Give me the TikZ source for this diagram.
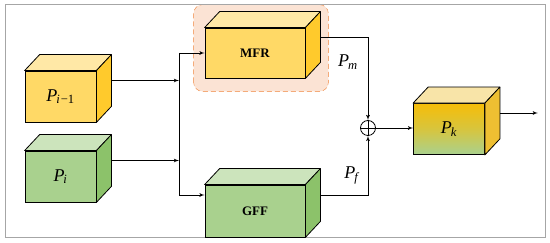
\documentclass[tikz,border=0pt]{standalone}
\usepackage{fontspec}
\setmainfont{Liberation Serif}
\usetikzlibrary{arrows, positioning, backgrounds}

\definecolor{yfront}{HTML}{FFD966}
\definecolor{ytop}{HTML}{FFE8A6}
\definecolor{yside}{HTML}{FFCA2C}
\definecolor{gfront}{HTML}{A9D18E}
\definecolor{gtop}{HTML}{CCE4BC}
\definecolor{gside}{HTML}{8CC26A}
\definecolor{kfront}{HTML}{F6BD08}
\definecolor{ktop}{HTML}{F8E4A8}
\definecolor{kside}{HTML}{EEBF32}
\definecolor{hlfill}{HTML}{FBE3D4}
\definecolor{hlorange}{HTML}{F0843C}

\newcommand{\lbl}[2]{\textit{#1}\textsubscript{\kern-1pt#2}}

\begin{document}
\begin{tikzpicture}[
    x=1pt, y=1pt,
    line width=0.8pt,
    cube/.style={rectangle, draw, inner sep=0pt, minimum width=71pt, minimum height=51pt, font=\fontsize{18}{20}\selectfont},
    wide/.style={cube, minimum width=100pt, minimum height=50pt, font=\fontsize{13}{15}\selectfont\bfseries},
    sym/.style={font=\fontsize{18}{20}\selectfont},
    line/.style={draw, -latex'},
    hilite/.style={draw=hlorange, fill=hlfill, dash pattern=on 5pt off 3pt, rounded corners=9pt}
]

\useasboundingbox (0,0) rectangle (550,243);
\draw[gray!70, line width=0.7pt] (5,6) rectangle (545,239);

\node [cube, fill=yfront] (pprev) at (60.5,146.5) {\lbl{P}{\textit{i}\kern1pt−1}};
\node [cube, fill=gfront, below of=pprev, node distance=80pt] (pcur) {\lbl{P}{\textit{i}}};
\node [wide, fill=yfront] (mfr) at (255,190) {MFR};
\node [wide, fill=gfront, minimum height=52pt] (gff) at (255,32) {GFF};
\node [cube, top color=kfront, bottom color=gfront, middle color=kfront!60!gfront] (pk) at (449,114) {\lbl{P}{\textit{k}}};

% dashed frame round the MFR block
\begin{scope}[on background layer]
\draw[hilite] ([shift={(-11,-13)}]mfr.south west) rectangle ([shift={(23,23)}]mfr.north east);
\end{scope}

% top and side faces
\foreach \n/\tc/\sc in {pprev/ytop/yside, pcur/gtop/gside, mfr/ytop/yside, gff/gtop/gside, pk/ktop/kside} {
    \filldraw[fill=\tc, line join=round] (\n.north west) -- ++(15,16) -- ([shift={(15,16)}]\n.north east) -- (\n.north east) -- cycle;
    \filldraw[fill=\sc, line join=round] (\n.north east) -- ++(15,16) -- ([shift={(15,16)}]\n.south east) -- (\n.south east) -- cycle;
    \coordinate (\n-o) at ([shift={(15,16)}]\n.east);
}

\node [circle, draw, minimum size=15pt, inner sep=0pt] (sum) at (368,115) {};
\draw (sum.north) -- (sum.south) (sum.west) -- (sum.east);

\coordinate (jtop) at (179,190);
\coordinate (jbot) at (179,48);
\coordinate (end) at ([xshift=38pt]pk-o);

\path [line] (pprev-o) -- (pprev-o -| jtop);
\path [line] (pcur-o) -- (pcur-o -| jtop);
\draw (jtop) -- (jbot);
\path [line] (jtop) -- (mfr.west);
\path [line] (jbot) -- (jbot -| gff.west);
\path [line] (mfr-o) -| (sum.north);
\path [line] (gff-o) -| (sum.south);
\path [line] (sum) -- (sum -| pk.west);
\path [line] (pk-o) -- (end);

\node [sym] (pm) at (348,181) {\lbl{P}{\textit{m}}};
\node [sym] (pf) at (352,68) {\lbl{P}{\textit{f}}};

\end{tikzpicture}
\end{document}
